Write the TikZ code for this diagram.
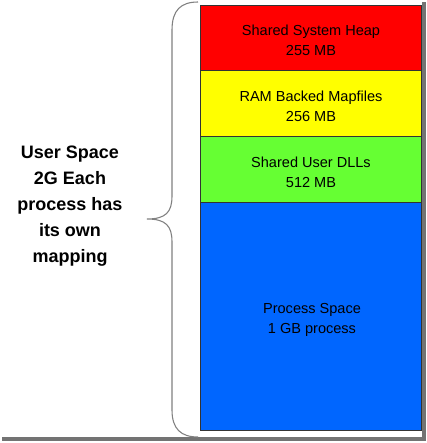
\documentclass[tikz,border=0pt]{standalone}
\usepackage{fontspec}
\setmainfont{Liberation Sans}
\begin{document}
\begin{tikzpicture}[x=0.75pt,y=-0.75pt,
  seg/.style={draw=black!80,line width=0.6pt,minimum width=165.75pt,inner sep=0pt},
  segtext/.style={font=\fontsize{10.9pt}{15pt}\selectfont,align=center,text=black},
  bracecol/.style={draw=black!50,line width=0.8pt},
  shadow/.style={fill=black!55,draw=none}]
\useasboundingbox (0,0) rectangle (427,443);
\fill[white] (0,0) rectangle (427,443);
% frame shadow
\fill[shadow] (422,2) rectangle (425.5,441);
\fill[shadow] (2,437) rectangle (425.5,440.5);
% segments
\node[seg,fill={rgb,255:red,255;green,0;blue,0},minimum height=49.1pt] (heap) at (310.75,37.75) {};
\node[seg,fill={rgb,255:red,255;green,255;blue,0},minimum height=49.5pt] (ram) at (310.75,103.5) {};
\node[seg,fill={rgb,255:red,102;green,255;blue,51},minimum height=49.5pt] (dll) at (310.75,169.5) {};
\node[seg,fill={rgb,255:red,0;green,102;blue,255},minimum height=171pt] (proc) at (310.75,316.5) {};
\node[segtext] (heaptxt) at (311,40.5) {Shared System Heap\\255 MB};
\node[segtext] (ramtxt) at (311,106.5) {RAM Backed Mapfiles\\256 MB};
\node[segtext] (dlltxt) at (311,172.5) {Shared User DLLs\\512 MB};
\node[segtext] (proctxt) at (312,319.5) {Process Space\\1 GB process};
% brace
\coordinate (btop) at (198,2);
\coordinate (btip) at (147,219);
\coordinate (bbot) at (198,437);
\draw[bracecol] (btop) .. controls (181,2) and (172,10) .. (172,30) -- (172,196)
  .. controls (172,212) and (166,219) .. (btip)
  .. controls (166,219) and (172,226) .. (172,242) -- (172,410)
  .. controls (172,429) and (181,437) .. (bbot);
% label
\node[font=\bfseries\fontsize{13.5pt}{19.5pt}\selectfont,align=center,text=black] (user) at (70,206) {User Space\\2G Each\\process has\\its own\\mapping};
\end{tikzpicture}
\end{document}
